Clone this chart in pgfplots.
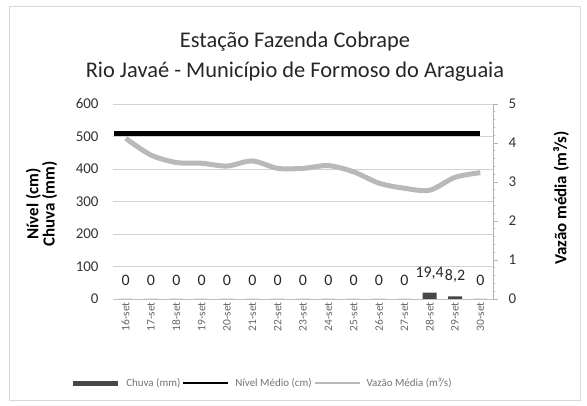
\documentclass[border=0pt]{standalone}
\usepackage{pgfplots}
\pgfplotsset{compat=1.18}
\usepackage{fontspec}
\setmainfont{Carlito}
\begin{document}
\begin{tikzpicture}
\path[use as bounding box] (0bp,0bp) rectangle (587bp,406bp);
\draw[gray!30] (9bp,6bp) rectangle (580bp,400bp);
\node[font=\fontsize{22.5}{30}\selectfont, text=black!85, align=center] at (295bp,349bp) {Estação Fazenda Cobrape\\Rio Javaé - Município de Formoso do Araguaia};
\begin{axis}[
  at={(113bp,107bp)}, anchor=south west, scale only axis,
  width=380bp, height=195bp,
  xmin=-0.5, xmax=14.5, ymin=0, ymax=600,
  ytick={0,100,...,600},
  xtick={0,...,14},
  xticklabels={16-set,17-set,18-set,19-set,20-set,21-set,22-set,23-set,24-set,25-set,26-set,27-set,28-set,29-set,30-set},
  x tick label style={rotate=90, anchor=east, font=\fontsize{11.5}{12}\selectfont, text=black!60},
  y tick label style={font=\fontsize{15}{16}\selectfont, text=black!80, xshift=-11bp},
  ymajorgrids, grid style={gray!35, line width=0.8bp},
  axis x line*=bottom, axis y line*=left,
  y axis line style={draw=none}, x axis line style={gray!50, line width=0.8bp},
  major tick length=0pt,
  /pgf/number format/assume math mode=true,
  ylabel={Nível (cm)\\Chuva (mm)},
  ylabel style={align=center, font=\bfseries\fontsize{17}{15}\selectfont, at={(axis description cs:-0.188,0.487)}, anchor=center},
]
\addplot[ybar, bar width=14bp, fill=black!72, draw=none,
  nodes near coords,
  every node near coord/.append style={font=\fontsize{16}{17}\selectfont, text=black!85, anchor=south, yshift=10bp, /pgf/number format/use comma},
] coordinates {(0,0) (1,0) (2,0) (3,0) (4,0) (5,0) (6,0) (7,0) (8,0) (9,0) (10,0) (11,0) (12,19.4) (13,8.2) (14,0)};
\addplot[black, line width=5bp] coordinates {(-0.45,510) (0,510) (1,510) (2,510) (3,510) (4,510) (5,510) (6,510) (7,510) (8,510) (9,510) (10,510) (11,510) (12,510) (13,510) (14,510)};
\end{axis}
\begin{axis}[
  at={(113bp,107bp)}, anchor=south west, scale only axis,
  width=380bp, height=195bp,
  xmin=-0.5, xmax=14.5, ymin=0, ymax=5,
  ytick={0,1,...,5},
  minor y tick num=4,
  axis x line=none, axis y line*=right,
  y axis line style={gray!60, line width=0.8bp},
  ytick style={gray!60, line width=0.8bp},
  minor tick style={gray!50, line width=0.5bp},
  tick align=outside, major tick length=5bp, minor tick length=2bp,
  y tick label style={font=\fontsize{15}{16}\selectfont, text=black!80, xshift=7bp},
  /pgf/number format/assume math mode=true,
  ylabel={Vazão média (m³/s)},
  ylabel style={font=\bfseries\fontsize{17}{15}\selectfont, at={(axis description cs:1.179,0.518)}, anchor=center, rotate=0},
  legend image code/.code={\draw[#1] (0bp,0bp) -- (32bp,0bp);\draw[#1,overlay] (31bp,0bp) -- (45bp,0bp);},
  legend style={at={(axis description cs:0.392,-0.431)}, anchor=center, draw=none, fill=none,
    font=\fontsize{11}{12}\selectfont, text=black!55, legend columns=3,
    /tikz/every odd column/.append style={column sep=17bp}},
]
\addlegendimage{black!72, line width=5bp}
\addlegendentry{Chuva (mm)}
\addlegendimage{black, line width=2bp}
\addlegendentry{Nível Médio (cm)}
\addlegendimage{gray!55, line width=2bp}
\addlegendentry{Vazão Média (m³/s)}
\addplot[gray!55, line width=5bp, smooth, forget plot] coordinates {(0,4.12) (1,3.69) (2,3.50) (3,3.48) (4,3.41) (5,3.54) (6,3.35) (7,3.35) (8,3.42) (9,3.26) (10,2.97) (11,2.84) (12,2.79) (13,3.12) (14,3.24)};
\end{axis}
\end{tikzpicture}
\end{document}
